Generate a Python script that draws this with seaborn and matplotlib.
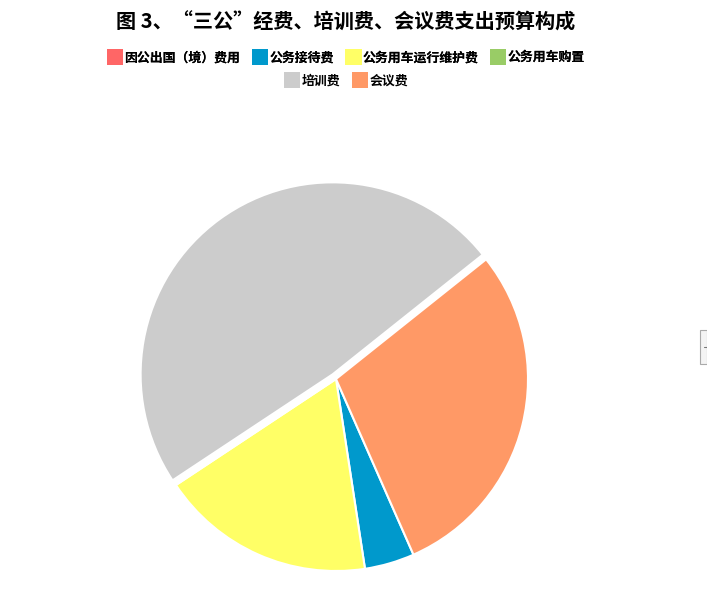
import matplotlib
matplotlib.use('Agg')
import matplotlib.pyplot as plt
import seaborn as sns
from matplotlib.patches import Rectangle, Patch

# data (percent of budget)
categories = ['因公出国（境）费用', '公务接待费', '公务用车运行维护费', '公务用车购置', '培训费', '会议费']
values = [0, 4.2, 18.1, 0, 48.6, 29.1]
colors = ['#FF6666', '#0099CC', '#FFFF66', '#99CC66', '#CCCCCC', '#FF9966']
explode = [0, 0, 0, 0, 0.03, 0]

sns.set_theme(style='white')
plt.rcParams['font.family'] = ['Noto Sans CJK SC', 'DejaVu Sans']
plt.rcParams['text.color'] = 'black'

W, H = 707, 596
fig = plt.figure(figsize=(W / 100, H / 100), dpi=100)

# pie axes: centre ~(336, 379) px, radius ~192 px
cx, cy, r = 336, 379, 192
half = r * 1.1
ax = fig.add_axes([(cx - half) / W, (H - cy - half) / H, 2 * half / W, 2 * half / H])
wedges, _ = ax.pie(values, colors=colors, explode=explode, startangle=-66.2,
                   counterclock=False,
                   wedgeprops=dict(edgecolor='white', linewidth=1.5))
ax.set_xlim(-1.1, 1.1)
ax.set_ylim(-1.1, 1.1)
ax.set_aspect('equal')
ax.axis('off')

# title
fig.text(346 / W, 1 - 22 / H, '图 3、“三公”经费、培训费、会议费支出预算构成',
         ha='center', va='center', fontsize=14.5, fontweight='bold', color='black')

# legend in two centred rows (plain squares, no white edge)
handles = [Patch(facecolor=c, edgecolor='none') for c in colors]
leg_kw = dict(frameon=False, loc='center', handlelength=1.25,
              handleheight=1.6, handletextpad=0.1, columnspacing=0.9,
              borderpad=0, borderaxespad=0, labelcolor='black',
              prop={'weight': 'bold', 'size': 9.3})
leg1 = fig.legend(handles[:4], categories[:4], ncol=4,
                  bbox_to_anchor=(346 / W, 1 - 57 / H), **leg_kw)
fig.add_artist(leg1)
fig.legend(handles[4:], categories[4:], ncol=2,
           bbox_to_anchor=(346 / W, 1 - 80 / H), **leg_kw)

# small scroll widget at right edge
fig.patches.append(Rectangle((700 / W, 1 - 364 / H), 7 / W, 34 / H,
                             transform=fig.transFigure, facecolor='#F4F4F4',
                             edgecolor='#AAAAAA', linewidth=0.8))
fig.lines.append(plt.Line2D([704 / W, 707 / W], [1 - 347 / H, 1 - 347 / H],
                            transform=fig.transFigure, color='#777777', linewidth=0.8))

fig.savefig('out.png', dpi=100)
